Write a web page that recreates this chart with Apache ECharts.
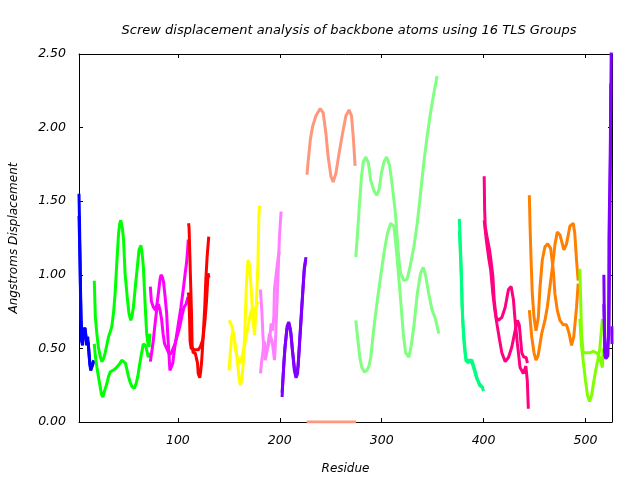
<!DOCTYPE html>
<html>
<head>
<meta charset="utf-8">
<script src="https://cdn.jsdelivr.net/npm/echarts@6/dist/echarts.min.js"></script>
<style>html,body{margin:0;padding:0;background:#fff}#c{width:640px;height:480px}</style>
</head>
<body>
<div id="c"></div>
<script>
const xTicks = [100, 200, 300, 400, 500];
const yTicks = [0, 0.5, 1, 1.5, 2, 2.5];
const groupColors = ['#0000ff','#00ff00','#ff00ff','#ff0000','#ffff00','#ff80ff','#8000ff','#ff977d','#80ff80','#00ff80','#ff0080','#ff8000','#80ff00','#8000ff'];

const g1a = [[3,1.55],[3.5,1.36],[4.5,0.85],[5.5,0.55],[6.5,0.52],[7.5,0.62],[8.5,0.64],[9.5,0.60],[10.5,0.52],[11.5,0.58],[12.5,0.50],[13.5,0.40],[14.5,0.35],[15.5,0.34],[16.5,0.40],[17.5,0.42]];
const g1b = [[3,1.40],[4,1.10],[5,0.70],[6,0.58],[7,0.58],[8,0.62],[9,0.64],[10,0.56],[11,0.55],[12,0.54],[13,0.45],[14,0.38],[15,0.36],[16,0.36],[17,0.40],[17.5,0.41]];
const g2a = [[18,0.96],[19,0.72],[20.5,0.60],[22,0.51],[24,0.44],[25.5,0.41],[27,0.43],[28.7,0.47],[30.5,0.53],[32,0.58],[34,0.62],[35.2,0.65],[37,0.75],[38.4,0.87],[40,1.07],[41.8,1.28],[43,1.35],[44,1.37],[45.5,1.32],[46.7,1.24],[48.2,1.01],[50.6,0.83],[52,0.74],[53.8,0.69],[55,0.72],[56.4,0.78],[58,0.90],[59.6,1.01],[61.9,1.17],[63.8,1.20],[65,1.14],[66.2,1.05],[67.8,0.81],[69.4,0.60],[70.5,0.54],[71.7,0.51],[72.5,0.60]];
const g2b = [[18,0.53],[19,0.45],[20.6,0.37],[22,0.31],[23.8,0.24],[25,0.19],[26.4,0.17],[28,0.21],[30.3,0.26],[32,0.31],[33.6,0.34],[36,0.35],[38.4,0.36],[41,0.38],[43.3,0.40],[45,0.42],[46.7,0.43],[48.5,0.40],[49.9,0.36],[51.5,0.31],[53.2,0.27],[55,0.24],[57.4,0.23],[59,0.26],[60.7,0.31],[62,0.37],[63.7,0.44],[66.1,0.53],[68.4,0.52],[71,0.44],[72.5,0.47]];
const g3a = [[73,0.92],[74,0.82],[76,0.78],[78,0.76],[79.5,0.80],[81,0.88],[82.5,0.97],[83.5,1.00],[85,0.98],[86,0.95],[87.5,0.85],[89,0.74],[90,0.60],[91.2,0.47],[92.2,0.35],[93.5,0.34],[95,0.40],[97,0.51],[99,0.60],[101,0.69],[103,0.78],[105.3,0.90],[107,1.00],[108.5,1.08],[109.5,1.16],[110.2,1.24]];
const g3b = [[73,0.41],[74.5,0.48],[76,0.56],[77.5,0.66],[79.2,0.76],[81,0.80],[82.5,0.76],[84,0.70],[85.5,0.60],[87,0.53],[89,0.50],[91,0.47],[93,0.46],[94.5,0.47],[96,0.51],[98,0.55],[100,0.60],[102,0.65],[104,0.72],[106,0.78],[108,0.80],[110,0.85]];
const g4a = [[110.5,1.35],[111,1.32],[111.7,1.15],[112.5,0.95],[113.4,0.74],[114,0.52],[115,0.47],[117,0.47],[118.3,0.47],[119.3,0.40],[120,0.33],[121.5,0.30],[122.5,0.35],[123.2,0.40],[124,0.48],[124.8,0.58],[126.4,0.78],[127.4,0.96],[128.7,1.12],[130.3,1.26]];
const g4b = [[110.2,0.88],[110.8,0.85],[111.5,0.70],[112,0.55],[113,0.50],[114.5,0.49],[116.6,0.49],[118.5,0.50],[120,0.49],[122,0.51],[123.2,0.52],[124.5,0.56],[125.5,0.62],[126.5,0.68],[128,0.81],[129.7,1.01],[130.5,0.98]];
const g5a = [[150.2,0.69],[151.5,0.68],[153.1,0.65],[155.1,0.58],[157.3,0.47],[159,0.38],[160,0.30],[161.3,0.25],[162.5,0.28],[163.9,0.37],[165.5,0.58],[167.1,0.90],[168,1.02],[168.8,1.10],[170,1.08],[171,1.00],[172,0.90],[173.7,0.69],[175.2,0.59],[176.9,0.78],[178.6,1.08],[179.5,1.40],[180.1,1.47]];
const g5b = [[150.2,0.35],[151.3,0.45],[152.5,0.56],[153.8,0.62],[155,0.58],[156.4,0.51],[158,0.45],[159,0.42],[160.5,0.40],[162,0.42],[163.9,0.47],[165.5,0.52],[167.1,0.58],[168.8,0.65],[171.3,0.74],[173.7,0.78],[175.5,0.74],[177.9,0.81],[179.5,0.80]];
const g6a = [[181.1,0.90],[182.5,0.74],[183.7,0.56],[185.7,0.42],[187.5,0.48],[189.9,0.60],[191,0.60],[192.5,0.55],[194.8,0.42],[195.5,0.50],[196.4,0.65],[198.1,0.96],[199.7,1.26],[201.3,1.43]];
const g6b = [[181.1,0.33],[182,0.40],[183.4,0.47],[184.5,0.55],[186,0.51],[188,0.50],[190,0.55],[191.5,0.67],[193,0.62],[194.2,0.72],[194.8,0.90],[196.4,1.00],[198.1,1.10],[199.5,1.16]];
const g7a = [[202.3,0.17],[203,0.28],[204,0.40],[205.2,0.51],[207.2,0.65],[208.8,0.68],[210,0.67],[211,0.60],[212.7,0.47],[214.3,0.35],[216,0.30],[217.5,0.33],[219.2,0.51],[220.9,0.69],[222.5,0.87],[224.1,1.05],[225.7,1.12]];
const g7b = [[202.3,0.20],[203.5,0.33],[205,0.50],[207,0.63],[209,0.67],[210.5,0.63],[212.5,0.48],[214.5,0.36],[216,0.31],[218,0.38],[219.5,0.55],[221,0.72],[222.5,0.88],[224,1.03],[225.5,1.10]];
const g8a = [[226.7,1.68],[228,1.78],[230,1.92],[232.3,2.01],[235.5,2.08],[239.7,2.13],[242.6,2.10],[245.3,1.96],[247.5,1.80],[250.2,1.67],[252.4,1.63],[255.1,1.69],[258.3,1.83],[261.6,1.96],[264.9,2.08],[268,2.12],[270.4,2.08],[272.3,1.92],[273.9,1.74]];
const g8b = [[226.4,0],[240,0],[255,0],[275,0]];
const g9a = [[274.6,1.12],[276.3,1.28],[277.8,1.44],[280.2,1.67],[282.1,1.77],[284.4,1.80],[287,1.76],[289.3,1.64],[292.5,1.57],[295.1,1.54],[297.5,1.58],[299.7,1.69],[302.3,1.77],[304.9,1.80],[307.5,1.75],[309.8,1.64],[312,1.51],[313.7,1.40],[315.3,1.24],[316.9,1.10],[318.6,1.01],[321.8,0.96],[325,0.97],[327.7,1.05],[331.6,1.19],[334.9,1.35],[338.1,1.55],[341.3,1.76],[344.6,1.94],[347.9,2.10],[351.1,2.23],[354.4,2.35]];
const g9b = [[274.6,0.69],[276.3,0.58],[278.5,0.44],[280.5,0.37],[283,0.34],[285.5,0.35],[287.5,0.38],[289.3,0.44],[292.5,0.65],[295.8,0.83],[299,0.99],[302.3,1.15],[305.6,1.28],[308.8,1.35],[312,1.33],[313.7,1.22],[315.3,1.10],[318.6,0.83],[321.2,0.60],[323.5,0.47],[326.7,0.44],[329,0.52],[331.6,0.65],[334.9,0.87],[338.1,1.01],[340.7,1.05],[343,1.00],[346.2,0.87],[349.5,0.76],[352.8,0.70],[356,0.60]];
const g10a = [[376.2,1.38],[377.2,1.21],[378.2,1.01],[378.8,0.81],[379.8,0.65],[381.1,0.51],[382.8,0.41],[385.3,0.42],[387,0.43],[388.6,0.42],[391.2,0.36],[393.5,0.30],[396,0.25],[398,0.24],[400,0.23]];
const g10b = [[376.2,1.30],[377.5,1.10],[378.5,0.90],[379.5,0.70],[381,0.55],[382.5,0.44],[384.5,0.40],[386.5,0.42],[388.6,0.40],[391,0.35],[393.5,0.29],[396,0.26],[398.5,0.24],[400,0.21]];
const g11a = [[400.6,1.67],[401,1.45],[401.6,1.33],[403.3,1.26],[405.8,1.17],[407.2,1.10],[409.1,0.99],[410.4,0.83],[412.4,0.71],[414.6,0.69],[417.9,0.71],[421.2,0.78],[424.4,0.90],[427,0.92],[429.3,0.83],[430.9,0.69],[433.2,0.53],[435.8,0.37],[439,0.33],[441.5,0.38],[442.9,0.28],[443.9,0.09]];
const g11b = [[400.6,1.37],[402.6,1.24],[404.9,1.12],[407,1.03],[409.1,0.87],[411,0.76],[413,0.67],[415.6,0.56],[417.9,0.47],[421.2,0.41],[424.5,0.44],[427.7,0.51],[430.9,0.62],[433.2,0.69],[435,0.66],[436.5,0.55],[437.5,0.47],[439.5,0.44],[441.7,0.44],[443,0.40]];
const g12a = [[444.9,1.54],[445.6,1.33],[446.6,1.10],[447.8,0.87],[449.5,0.71],[451.4,0.62],[453.7,0.71],[455.4,0.92],[457.6,1.10],[460.2,1.19],[462.9,1.21],[465.8,1.18],[468.4,1.03],[470,0.87],[472.3,0.76],[474.9,0.69],[478.2,0.66],[481.4,0.66],[484,0.60],[486.3,0.52],[488.5,0.58],[491.2,0.78],[492.8,0.94]];
const g12b = [[444.9,0.76],[447.2,0.58],[449.5,0.47],[451.4,0.42],[453.5,0.45],[457,0.60],[460.2,0.69],[462.5,0.78],[465.1,0.92],[467.5,1.05],[470.1,1.21],[472.3,1.29],[475,1.27],[478.8,1.17],[481.4,1.21],[484.7,1.33],[488,1.35],[489.5,1.28],[491.2,1.10],[492.8,0.96]];
const g13a = [[494.4,1.04],[495.1,0.87],[496.1,0.60],[497.7,0.47],[501,0.47],[504,0.47],[507.5,0.48],[511,0.47],[514,0.44],[516.6,0.37],[517.5,0.50]];
const g13b = [[494.4,0.70],[496,0.52],[498,0.40],[500,0.28],[502,0.18],[504,0.14],[506,0.18],[508,0.27],[510,0.35],[512,0.42],[514,0.50],[516.6,0.70]];
const g14a = [[518,1.00],[518.5,0.70],[519,0.45],[520,0.43],[521,0.44],[522,0.45],[522.7,0.70],[523,1.24],[523.7,1.56],[524.3,1.80],[524.8,2.30]];
const g14b = [[518,0.80],[519,0.48],[520.5,0.44],[522,0.45],[523,0.60],[523.8,1.20],[524.5,1.90],[525.2,2.50],[525.6,2.70]];
const g14c = [[525.9,0.65],[526,0.53]];

const curves = [
  [g1a,0],[g1b,0],[g2a,1],[g2b,1],[g3a,2],[g3b,2],[g4a,3],[g4b,3],[g5a,4],[g5b,4],
  [g6a,5],[g6b,5],[g7a,6],[g7b,6],[g8a,7],[g8b,7],[g9a,8],[g9b,8],[g10a,9],[g10b,9],
  [g11a,10],[g11b,10],[g12a,11],[g12b,11],[g13a,12],[g13b,12],[g14a,13],[g14b,13],[g14c,13]
];

const font = 'DejaVu Sans';
const tickStyle = {fontFamily: font, fontStyle: 'italic', fontSize: 12.5, color: '#000'};
const nameStyle = {fontFamily: font, fontStyle: 'italic', fontSize: 12, color: '#000'};
const lineBlack = {color: '#000', width: 1};

const chart = echarts.init(document.getElementById('c'), null, {renderer: 'canvas'});
chart.setOption({
  animation: false,
  backgroundColor: '#fff',
  title: {
    text: 'Screw displacement analysis of backbone atoms using 16 TLS Groups',
    left: 344, top: 19, textAlign: 'center',
    textStyle: {fontFamily: font, fontStyle: 'italic', fontWeight: 'normal', fontSize: 13, color: '#000'}
  },
  grid: {left: 77, right: 28, top: 54, bottom: 58, containLabel: false},
  xAxis: [
    {type: 'value', min: 3, max: 526, position: 'bottom',
     axisLine: {show: true, onZero: false, lineStyle: lineBlack},
     axisTick: {show: true, inside: true, length: 4, customValues: xTicks, lineStyle: lineBlack},
     axisLabel: Object.assign({customValues: xTicks, margin: 12}, tickStyle),
     splitLine: {show: false},
     name: 'Residue', nameLocation: 'middle', nameGap: 41,
     nameTextStyle: nameStyle},
    {type: 'value', min: 3, max: 526, position: 'top',
     axisLine: {show: true, onZero: false, lineStyle: lineBlack},
     axisTick: {show: true, inside: true, length: 4, customValues: xTicks, lineStyle: lineBlack},
     axisLabel: {show: false}, splitLine: {show: false}}
  ],
  yAxis: [
    {type: 'value', min: 0, max: 2.5, interval: 0.5, position: 'left',
     axisLine: {show: true, onZero: false, lineStyle: lineBlack},
     axisTick: {show: true, inside: true, length: 4, customValues: yTicks, lineStyle: lineBlack},
     axisLabel: Object.assign({customValues: yTicks, margin: 13, formatter: v => Number(v).toFixed(2)}, tickStyle),
     splitLine: {show: false},
     name: 'Angstroms Displacement', nameLocation: 'middle', nameGap: 59, nameRotate: 90,
     nameTextStyle: nameStyle},
    {type: 'value', min: 0, max: 2.5, interval: 0.5, position: 'right',
     axisLine: {show: true, onZero: false, lineStyle: lineBlack},
     axisTick: {show: true, inside: true, length: 4, customValues: yTicks, lineStyle: lineBlack},
     axisLabel: {show: false}, splitLine: {show: false}}
  ],
  series: curves.map(([d, gi]) => ({
    type: 'line', xAxisIndex: 0, yAxisIndex: 0, data: d,
    showSymbol: false, symbol: 'none', silent: true,
    lineStyle: {width: 3, color: groupColors[gi]},
    itemStyle: {color: groupColors[gi]}
  }))
});
</script>
</body>
</html>
